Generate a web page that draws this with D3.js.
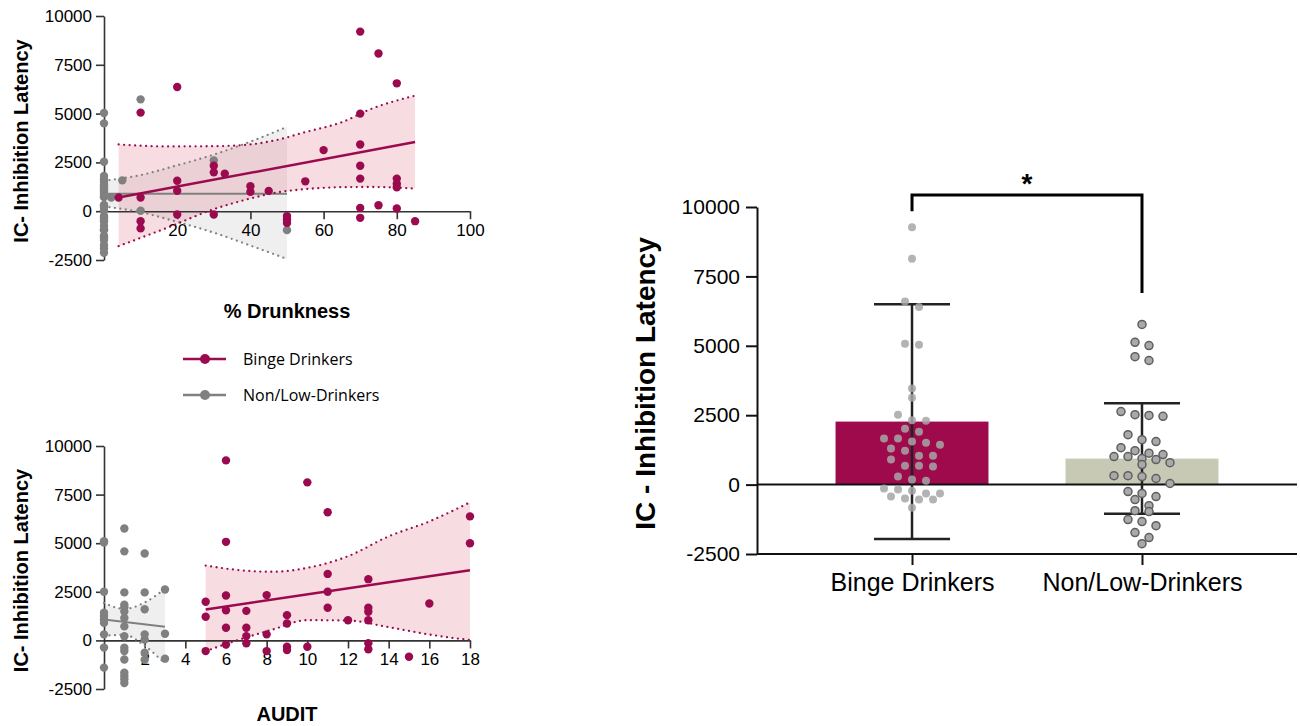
<!DOCTYPE html>
<html>
<head>
<meta charset="utf-8">
<script src="https://cdn.jsdelivr.net/npm/d3@7"></script>
<style>
  body { margin: 0; background: #fff; }
  svg text { font-family: Arial, "Liberation Sans", sans-serif; fill: #000; }
</style>
</head>
<body>
<div id="chart"></div>
<script>
const maroon = '#9b0a4e',
      grey = '#808080';

// ---- % Drunkness panel: [drunkness, latency]
const drunkBinge = [[4,700],[10,5050],[10,700],[10,-510],[10,-880],[20,6360],[20,1560],[20,1050],[20,-170],
  [30,2330],[30,1990],[30,-170],[33,1920],[40,1280],[40,990],[45,1040],[50,-250],[50,-420],[50,-600],
  [55,1530],[60,3130],[70,9200],[70,5000],[70,3420],[70,2330],[70,1670],[70,170],[70,-340],[75,8080],
  [75,306],[80,6550],[80,1670],[80,1410],[80,1220],[80,140],[85,-510]];
const drunkLowAtZero = [5030,4500,2530,1800,1620,1500,1330,1220,1130,1010,900,790,720,320,290,220,40,
  -250,-320,-430,-540,-760,-940,-970,-1260,-1330,-1480,-1730,-1910,-2130];
const drunkLowOther = [[2,700],[5,1580],[10,5730],[10,20],[30,2600],[50,-970]];

// fitted lines and 95% bands
const drunkBingeFitX = [4, 85], drunkBingeFitY = [700, 3540];
const drunkBingeBandX = [4, 17, 30, 40, 47, 55, 65, 73, 85];
const drunkBingeUpper = [3420, 3320, 3330, 3420, 3640, 4050, 4560, 5240, 5920];
const drunkBingeLower = [-1790, -870, 100, 650, 950, 1130, 1230, 1240, 1160];
const drunkLowFitX = [0, 50], drunkLowFitY = [900, 900];
const drunkLowBandX = [0, 10, 20, 30, 40, 50];
const drunkLowUpper = [1560, 1850, 2350, 2900, 3560, 4320];
const drunkLowLower = [240, -50, -550, -1100, -1760, -2450];

// ---- AUDIT panel: [audit, latency]
const auditBinge = [[5,1990],[5,1220],[5,-550],[6,9260],[6,5070],[6,2310],[6,1550],[6,650],[6,-210],
  [7,1520],[7,650],[7,220],[7,-150],[8,2330],[8,310],[8,-550],[9,1300],[9,870],[9,-330],[9,-500],
  [10,8130],[10,-330],[11,6590],[11,3420],[11,2500],[11,1680],[12,1040],[13,3150],[13,1680],[13,1470],
  [13,1040],[13,-150],[13,-460],[15,-840],[16,1900],[18,6380],[18,5000]];
const auditLow = [[0,5030],[0,5100],[0,2500],[0,1420],[0,1250],[0,1080],[0,900],[0,310],[0,-370],[0,-1400],
  [1,5760],[1,4580],[1,2470],[1,1840],[1,1700],[1,1490],[1,1150],[1,720],[1,210],[1,-380],[1,-550],
  [1,-980],[1,-1660],[1,-1830],[1,-2000],[1,-2190],
  [2,4470],[2,2470],[2,1600],[2,310],[2,50],[2,-630],[2,-1000],
  [3,2620],[3,340],[3,-940]];
const auditBingeFitX = [5, 18], auditBingeFitY = [1590, 3610];
const auditBingeBandX = [5, 6.7, 8.3, 10, 12, 14, 16, 18];
const auditBingeUpper = [3850, 3610, 3530, 3730, 4330, 5350, 6120, 7100];
const auditBingeLower = [-550, 50, 560, 1040, 1020, 680, 300, 15];
const auditLowFitX = [0, 3], auditLowFitY = [1080, 700];
const auditLowBandX = [0, 1, 2, 3];
const auditLowUpper = [1930, 1620, 1950, 2650];
const auditLowLower = [240, 280, -280, -1200];

const latencyTicks = [-2500, 0, 2500, 5000, 7500, 10000];
const plain = d => String(d);

// ---- bar chart
const groups = ['Binge Drinkers', 'Non/Low-Drinkers'];
const groupMean = [2270, 937];
const groupSD = [4230, 1990];
const bingeLatency = [9270,8140,6600,6400,5070,5040,3460,3130,2520,2315,2300,2010,1900,1660,1660,1550,1510,
  1440,1300,1220,1040,1040,900,680,680,650,290,180,140,-140,-180,-220,-320,-320,-430,-500,-540,-540,-830];
const lowLatency = [5770,5125,5010,4610,4470,2630,2520,2490,2460,1800,1620,1550,1330,1220,1130,1080,1010,1010,
  940,900,790,720,320,320,290,220,40,-250,-320,-430,-540,-760,-940,-970,-1260,-1330,-1480,-1730,-1910,-2130];
const bracketLevels = [9850, 10430, 6900];

const svg = d3.select('#chart').append('svg')
    .attr('width', 1300)
    .attr('height', 726);

function scatterPanel(o) {
  const x = d3.scaleLinear().domain(o.xDomain).range([104, 470]);
  const y = d3.scaleLinear().domain([-2500, 10000]).range(o.yRange);
  const g = svg.append('g');

  const area = d3.area()
      .x(d => x(d[0])).y0(d => y(d[1])).y1(d => y(d[2]))
      .curve(d3.curveMonotoneX);
  const line = d3.line()
      .x(d => x(d[0])).y(d => y(d[1]))
      .curve(d3.curveMonotoneX);

  // bands (grey first, red over it)
  o.fits.forEach(f => {
    const rows = f.bx.map((v, i) => [v, f.lo[i], f.up[i]]);
    g.append('path')
        .attr('d', area(rows))
        .attr('fill', f.fill)
        .attr('fill-opacity', 0.25);
  });

  g.append('g')
      .attr('transform', `translate(${x(0)},0)`)
      .call(d3.axisLeft(y).tickValues(latencyTicks).tickFormat(plain)
          .tickSize(8).tickPadding(4).tickSizeOuter(0))
      .call(a => a.selectAll('text').attr('font-size', 17).attr('font-family', 'Arial, Liberation Sans'));
  g.append('g')
      .attr('transform', `translate(0,${y(0)})`)
      .call(d3.axisBottom(x).tickValues(o.xTicks).tickFormat(plain)
          .tickSize(8).tickPadding(5).tickSizeOuter(0))
      .call(a => a.selectAll('text').attr('font-size', 17).attr('font-family', 'Arial, Liberation Sans'));
  g.selectAll('.domain, .tick line').attr('stroke', '#333').attr('stroke-width', 1.6);

  o.fits.forEach(f => {
    [f.up, f.lo].forEach(edge => {
      g.append('path')
          .attr('d', line(f.bx.map((v, i) => [v, edge[i]])))
          .attr('fill', 'none').attr('stroke', f.color).attr('stroke-width', 2.3)
          .attr('stroke-dasharray', '0 5.5').attr('stroke-linecap', 'round');
    });
    g.append('path')
        .attr('d', line(f.fx.map((v, i) => [v, f.fy[i]])))
        .attr('fill', 'none').attr('stroke', f.color).attr('stroke-width', f.width);
  });

  o.points.forEach(p => {
    g.append('g').selectAll('circle')
      .data(p.data)
      .join('circle')
        .attr('cx', d => x(d[0]))
        .attr('cy', d => y(d[1]))
        .attr('r', 4.2)
        .attr('fill', p.color);
  });

  g.append('text')
      .attr('transform', `translate(28,${(o.yRange[0] + o.yRange[1]) / 2 + 3}) rotate(-90)`)
      .attr('text-anchor', 'middle')
      .attr('font-size', 20).attr('font-weight', 'bold')
      .text('IC- Inhibition Latency');
  g.append('text')
      .attr('x', (x.range()[0] + x.range()[1]) / 2)
      .attr('y', o.titleY)
      .attr('text-anchor', 'middle')
      .attr('font-size', 20).attr('font-weight', 'bold')
      .text(o.title);
}

scatterPanel({
  xDomain: [0, 100], yRange: [260, 16], xTicks: [20, 40, 60, 80, 100],
  title: '% Drunkness', titleY: 318,
  fits: [
    {bx: drunkLowBandX, up: drunkLowUpper, lo: drunkLowLower, fx: drunkLowFitX, fy: drunkLowFitY,
     fill: '#bfbfbf', color: grey, width: 2},
    {bx: drunkBingeBandX, up: drunkBingeUpper, lo: drunkBingeLower, fx: drunkBingeFitX, fy: drunkBingeFitY,
     fill: '#de7887', color: maroon, width: 2.5}
  ],
  points: [
    {data: drunkLowAtZero.map(v => [0, v]).concat(drunkLowOther), color: grey},
    {data: drunkBinge, color: maroon}
  ]
});

scatterPanel({
  xDomain: [0, 18], yRange: [689, 446], xTicks: [2, 4, 6, 8, 10, 12, 14, 16, 18],
  title: 'AUDIT', titleY: 721,
  fits: [
    {bx: auditLowBandX, up: auditLowUpper, lo: auditLowLower, fx: auditLowFitX, fy: auditLowFitY,
     fill: '#bfbfbf', color: grey, width: 2},
    {bx: auditBingeBandX, up: auditBingeUpper, lo: auditBingeLower, fx: auditBingeFitX, fy: auditBingeFitY,
     fill: '#de7887', color: maroon, width: 2.5}
  ],
  points: [
    {data: auditLow, color: grey},
    {data: auditBinge, color: maroon}
  ]
});

// Legend
const legend = svg.append('g').attr('transform', 'translate(183,359)');
[['Binge Drinkers', maroon], ['Non/Low-Drinkers', grey]].forEach((d, i) => {
  const row = legend.append('g').attr('transform', `translate(0,${i * 36})`);
  row.append('line').attr('x2', 43).attr('stroke', d[1]).attr('stroke-width', 2.5);
  row.append('circle').attr('cx', 22).attr('r', 5).attr('fill', d[1]);
  row.append('text')
      .attr('x', 60).attr('dy', '0.35em')
      .attr('font-size', 16).style('font-family', '"Open Sans", sans-serif')
      .text(d[0]);
});

// ---- Bar chart with column scatter
const bx = d3.scalePoint().domain(groups).range([757, 1297]).padding(0.674);
const by = d3.scaleLinear().domain([-2500, 10000]).range([554, 207]);
const barW = bx.step() * 0.665;
const bar = svg.append('g');

bar.selectAll('rect')
  .data(groups)
  .join('rect')
    .attr('x', d => bx(d) - barW / 2)
    .attr('width', barW)
    .attr('y', (d, i) => by(groupMean[i]))
    .attr('height', (d, i) => by(0) - by(groupMean[i]))
    .attr('fill', (d, i) => i === 0 ? '#9e0a4c' : '#c8c9b5');

bar.append('line')
    .attr('x1', 757).attr('x2', 1297)
    .attr('y1', by(0)).attr('y2', by(0))
    .attr('stroke', '#111').attr('stroke-width', 2);

bar.append('g')
    .attr('transform', 'translate(757,0)')
    .call(d3.axisLeft(by).tickValues(latencyTicks).tickFormat(plain)
        .tickSize(11).tickPadding(6).tickSizeOuter(0))
    .call(a => a.selectAll('text').attr('font-size', 21).attr('font-family', 'Arial, Liberation Sans'));
bar.append('g')
    .attr('transform', `translate(0,${by(-2500)})`)
    .call(d3.axisBottom(bx).tickSize(11).tickPadding(8).tickSizeOuter(0))
    .call(a => a.select('.domain').attr('d', 'M757,0H1297'))
    .call(a => a.selectAll('text').attr('font-size', 25).attr('font-family', 'Arial, Liberation Sans'));
bar.selectAll('.domain, .tick line').attr('stroke', '#111').attr('stroke-width', 2);

// error bars
groups.forEach((gname, i) => {
  const cx = bx(gname), hi = by(groupMean[i] + groupSD[i]), lo = by(groupMean[i] - groupSD[i]);
  const e = bar.append('g').attr('stroke', '#222').attr('stroke-width', 2.5);
  e.append('line').attr('x1', cx).attr('x2', cx).attr('y1', hi).attr('y2', lo);
  e.append('line').attr('x1', cx - 38).attr('x2', cx + 38).attr('y1', hi).attr('y2', hi);
  e.append('line').attr('x1', cx - 38).attr('x2', cx + 38).attr('y1', lo).attr('y2', lo);
});

// column scatter laid out in rows
function swarm(values, cx, rowH, step) {
  const pts = values.map(v => ({v, py: by(v)})).sort((a, b) => a.py - b.py);
  const rows = [];
  pts.forEach(p => {
    const last = rows[rows.length - 1];
    if (last && p.py - last[0].py < rowH) last.push(p); else rows.push([p]);
  });
  rows.forEach(r => r.forEach((p, i) => p.px = cx + (i - (r.length - 1) / 2) * step));
  return pts;
}

bar.append('g').selectAll('circle')
  .data(swarm(bingeLatency, bx(groups[0]), 8, 14))
  .join('circle')
    .attr('cx', d => d.px).attr('cy', d => d.py).attr('r', 4)
    .attr('fill', '#a6a6a6').attr('fill-opacity', 0.85);

bar.append('g').selectAll('circle')
  .data(swarm(lowLatency, bx(groups[1]), 8, 14))
  .join('circle')
    .attr('cx', d => d.px).attr('cy', d => d.py).attr('r', 4)
    .attr('fill', '#a9a9a9').attr('stroke', '#5f5f5f').attr('stroke-width', 1.5);

// significance bracket
const bl = bx(groups[0]), br = bx(groups[1]);
bar.append('path')
    .attr('d', `M${bl},${by(bracketLevels[0])}V${by(bracketLevels[1])}H${br}V${by(bracketLevels[2])}`)
    .attr('fill', 'none').attr('stroke', '#000').attr('stroke-width', 3);
bar.append('text')
    .attr('x', (bl + br) / 2).attr('y', by(bracketLevels[1]) - 2)
    .attr('text-anchor', 'middle')
    .attr('font-size', 28).attr('font-weight', 'bold')
    .text('*');

bar.append('text')
    .attr('transform', `translate(655,${(by(-2500) + by(10000)) / 2 + 3}) rotate(-90)`)
    .attr('text-anchor', 'middle')
    .attr('font-size', 28).attr('font-weight', 'bold')
    .text('IC - Inhibition Latency');
</script>
</body>
</html>
